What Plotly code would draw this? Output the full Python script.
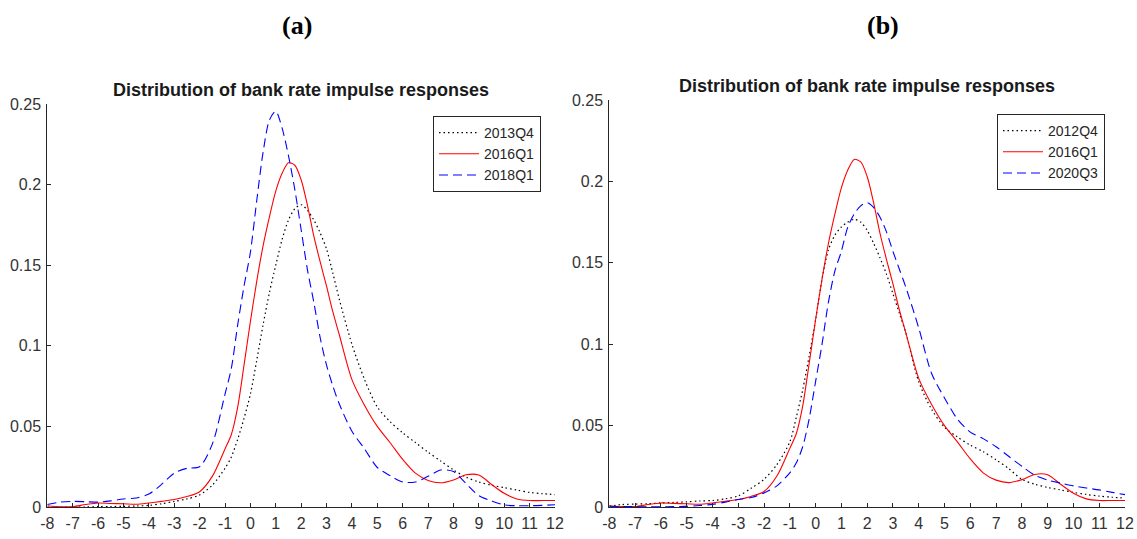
import plotly.graph_objects as go

# Sample points of the impulse-response densities (bank rate response, x axis)
x_grid = [-8, -7.5, -7, -6.5, -6, -5.5, -5, -4.5, -4, -3.5, -3, -2.5, -2, -1.5,
          -1, -0.75, -0.5, -0.25, 0, 0.25, 0.5, 0.75, 1, 1.25, 1.5, 1.75, 2,
          2.25, 2.5, 2.75, 3, 3.25, 3.5,
          4, 4.5, 5, 5.5, 6, 6.5, 7, 7.5, 8, 8.5, 9, 9.5, 10, 10.5, 11, 11.5, 12]

# Panel (a)
dens_2013q4 = [0.0, 0.0, 0.0, 0.0, 0.0002, 0.0003, 0.0004, 0.0006, 0.001, 0.002,
               0.0035, 0.005, 0.0075, 0.0135,
               0.024, 0.031, 0.042, 0.055, 0.07, 0.091, 0.113, 0.133, 0.15, 0.166,
               0.178, 0.185, 0.1875, 0.184, 0.178, 0.17, 0.16, 0.145, 0.129,
               0.101, 0.079, 0.062, 0.053, 0.046, 0.04, 0.034, 0.0285, 0.023,
               0.0185, 0.0155, 0.0135, 0.012, 0.0105, 0.009, 0.0083, 0.0077]

dens_2016q1 = [0.0008, 0.0002, 0.0002, 0.0015, 0.0025, 0.0022, 0.002, 0.0017,
               0.0025, 0.0035, 0.0046, 0.0065, 0.0095, 0.019,
               0.036, 0.045, 0.062, 0.088, 0.115, 0.14, 0.162, 0.18, 0.196, 0.207,
               0.2135, 0.212, 0.203, 0.187, 0.168, 0.152, 0.137, 0.121, 0.107,
               0.079, 0.063, 0.05, 0.04, 0.0295, 0.021, 0.0165, 0.015, 0.0168,
               0.02, 0.0198, 0.014, 0.0085, 0.005, 0.004, 0.004, 0.004]

dens_2018q1 = [0.0015, 0.003, 0.0035, 0.0033, 0.003, 0.0038, 0.005, 0.0056,
               0.008, 0.014, 0.021, 0.024, 0.025, 0.039,
               0.07, 0.086, 0.113, 0.137, 0.158, 0.19, 0.22, 0.24, 0.2455, 0.235,
               0.218, 0.197, 0.172, 0.147, 0.127, 0.105, 0.088, 0.075, 0.064,
               0.047, 0.036, 0.0245, 0.0195, 0.0155, 0.0155, 0.019, 0.023, 0.022,
               0.0145, 0.007, 0.0038, 0.0013, 0.0008, 0.0008, 0.001, 0.0014]

# Panel (b)
dens_2012q4 = [0.0005, 0.0015, 0.0018, 0.002, 0.0025, 0.0028, 0.0032, 0.0037,
               0.004, 0.005, 0.0068, 0.0115, 0.017, 0.026,
               0.04, 0.055, 0.072, 0.0926, 0.115, 0.14, 0.158, 0.167, 0.172, 0.175,
               0.1767, 0.175, 0.17, 0.162, 0.153, 0.143, 0.131, 0.119, 0.107,
               0.077, 0.06, 0.049, 0.043, 0.038, 0.034, 0.029, 0.0235, 0.017,
               0.014, 0.012, 0.0105, 0.009, 0.0077, 0.0067, 0.006, 0.0055]

dens_2020q3 = [0.0005, 0.0003, 0.0002, 0.0001, 0.0001, 0.0002, 0.0004, 0.0009,
               0.0016, 0.003, 0.0046, 0.0058, 0.0086, 0.013,
               0.021, 0.027, 0.037, 0.054, 0.077, 0.1, 0.126, 0.145, 0.157, 0.172,
               0.18, 0.185, 0.187, 0.184, 0.178, 0.169, 0.157, 0.146, 0.135,
               0.11, 0.082, 0.067, 0.054, 0.046, 0.042, 0.037, 0.031, 0.025,
               0.0195, 0.0165, 0.0147, 0.013, 0.0117, 0.0105, 0.009, 0.0076]

x_ticks = list(range(-8, 13))
x_tick_text = [str(v) for v in x_ticks]
y_ticks = [0, 0.05, 0.1, 0.15, 0.2, 0.25]
y_tick_text = ["0", "0.05", "0.1", "0.15", "0.2", "0.25"]

panel_title = "Distribution of bank rate impulse responses"

BLACK = "#000000"
RED = "#ff0000"
BLUE = "#0000ff"
AXIS = "#262626"
FONT = "Liberation Sans, Arial, Helvetica, sans-serif"

styles = {
    "dot": dict(color=BLACK, width=1.2, dash="1.5px,3px"),
    "solid": dict(color=RED, width=1.1),
    "dash": dict(color=BLUE, width=1.1, dash="9px,5px"),
}

left_series = [("2013Q4", dens_2013q4, "dot"),
               ("2016Q1", dens_2016q1, "solid"),
               ("2018Q1", dens_2018q1, "dash")]
right_series = [("2012Q4", dens_2012q4, "dot"),
                ("2016Q1", dens_2016q1, "solid"),
                ("2020Q3", dens_2020q3, "dash")]

fig = go.Figure()
for name, vals, sty in left_series:
    fig.add_trace(go.Scatter(x=x_grid, y=vals, name=name, mode="lines",
                             line=dict(shape="spline", smoothing=0.8, **styles[sty]),
                             xaxis="x", yaxis="y", legend="legend"))
for name, vals, sty in right_series:
    fig.add_trace(go.Scatter(x=x_grid, y=vals, name=name, mode="lines",
                             line=dict(shape="spline", smoothing=0.8, **styles[sty]),
                             xaxis="x2", yaxis="y2", legend="legend2"))

W, H = 1137, 539

axis_common = dict(showline=True, linecolor=AXIS, linewidth=1, mirror=False,
                   ticks="inside", ticklen=4, tickwidth=1, tickcolor=AXIS,
                   showgrid=False, zeroline=False, automargin=False,
                   tickfont=dict(family=FONT, size=16, color="#333333"))

xax = dict(axis_common, range=[-8, 12], tickvals=x_ticks, ticktext=x_tick_text,
           ticklabelstandoff=2)
yax = dict(axis_common, range=[0, 0.25], tickvals=y_ticks, ticktext=y_tick_text,
           ticklabelstandoff=2)

legend_common = dict(bgcolor="#ffffff", bordercolor=AXIS, borderwidth=1,
                     font=dict(family=FONT, size=14, color="#262626"),
                     xanchor="left", yanchor="top", tracegroupgap=0,
                     itemwidth=40)

fig.update_layout(
    width=W, height=H,
    margin=dict(l=0, r=0, t=0, b=0),
    paper_bgcolor="#ffffff", plot_bgcolor="#ffffff",
    xaxis=dict(xax, domain=[47.3 / W, 555 / W], anchor="y"),
    yaxis=dict(yax, domain=[1 - 507 / H, 1 - 104 / H], anchor="x"),
    xaxis2=dict(xax, domain=[609.3 / W, 1125 / W], anchor="y2"),
    yaxis2=dict(yax, domain=[1 - 507 / H, 1 - 100 / H], anchor="x2"),
    legend=dict(legend_common, x=433 / W, y=1 - 116 / H),
    legend2=dict(legend_common, x=997 / W, y=1 - 114 / H),
    showlegend=True,
)

serif = "Liberation Serif, Times New Roman, serif"
annotations = [
    dict(text="<b>" + panel_title + "</b>", x=301 / W, y=1 - 90 / H,
         font=dict(family=FONT, size=18, color="#1a1a1a")),
    dict(text="<b>" + panel_title + "</b>", x=867 / W, y=1 - 86 / H,
         font=dict(family=FONT, size=18, color="#1a1a1a")),
    dict(text="<b>(a)</b>", x=297 / W, y=1 - 26 / H,
         font=dict(family=serif, size=26, color="#000000")),
    dict(text="<b>(b)</b>", x=883 / W, y=1 - 26 / H,
         font=dict(family=serif, size=26, color="#000000")),
]
for a in annotations:
    fig.add_annotation(xref="paper", yref="paper", xanchor="center", yanchor="middle",
                       showarrow=False, **a)

# Let the figure sit flush with the page corner
fig.write_html("out.html", post_script="document.body.style.margin='0px';")
